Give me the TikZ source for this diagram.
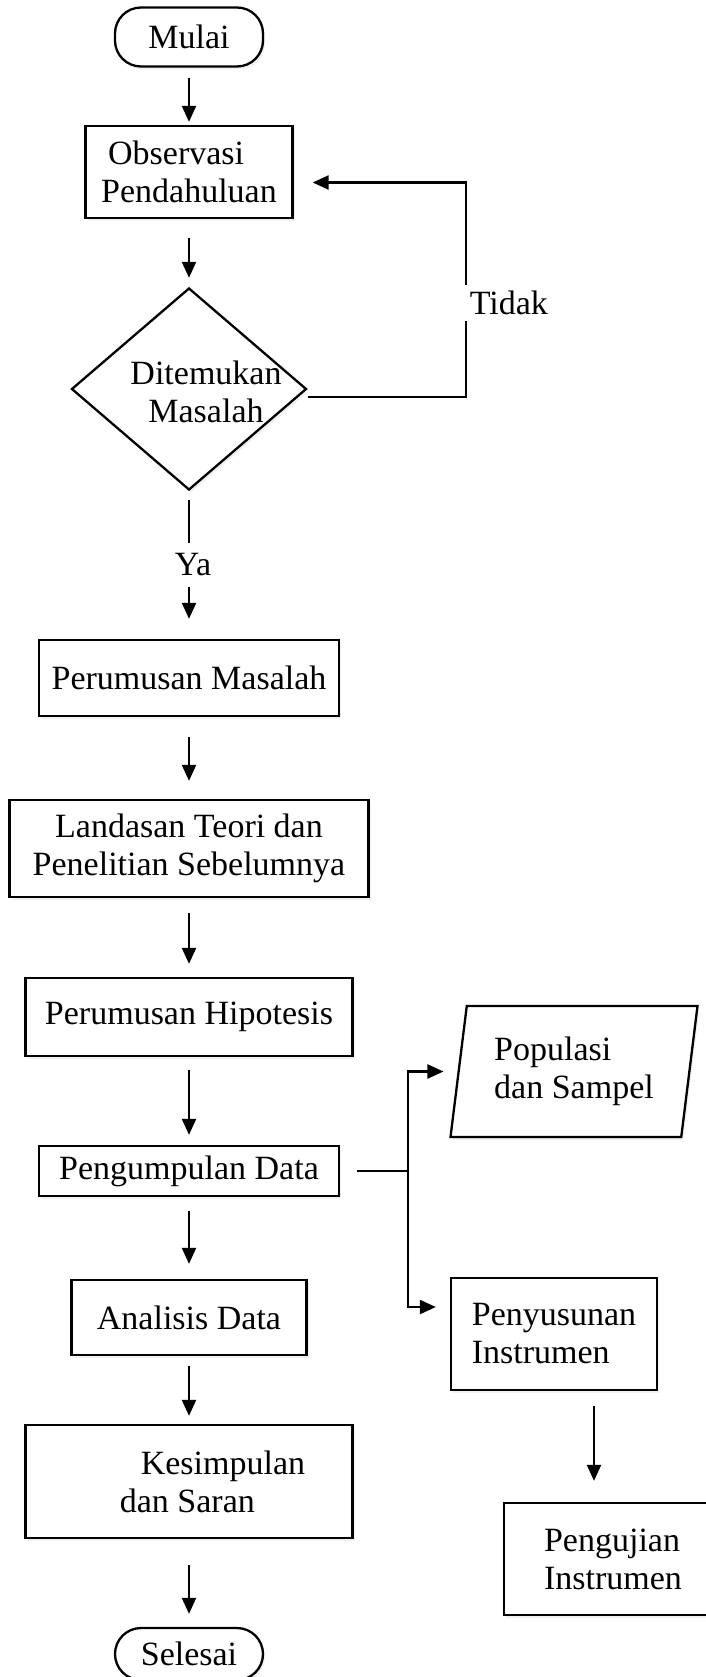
\documentclass[tikz,border=0pt]{standalone}
\usepackage{fontspec}
\setmainfont{Liberation Serif}
\usetikzlibrary{arrows.meta,shapes.geometric,shadows}
\tikzset{
  proc/.style={draw, rectangle, line width=2.3pt, fill=white, inner sep=0pt, align=center,
               drop shadow={shadow xshift=2pt, shadow yshift=-3pt, opacity=0.12}},
  term/.style={proc, rounded corners=26pt, minimum width=148pt},
  dec/.style={proc, diamond, minimum width=235pt, minimum height=202pt},
  io/.style={proc, trapezium, trapezium left angle=76.7, trapezium right angle=103.3,
             trapezium stretches body, align=left},
  flow/.style={-{Triangle[length=16pt,width=14pt]}, line width=2.2pt},
  lbl/.style={fill=white, inner sep=6pt},
  dtext/.style={align=center, xshift=17pt, yshift=-3pt}
}

\begin{document}
\begin{tikzpicture}[x=1pt, y=-1pt, font=\fontsize{34}{38}\selectfont]
\useasboundingbox (0,0) rectangle (705,1677);
% alur utama
\node[term, minimum height=59pt] (mulai) at (189,37) {Mulai};
\node[proc, minimum width=207pt, minimum height=92pt, align=left] (obs) at (189,172) {\hspace*{7pt}Observasi\\Pendahuluan};
\node[dec, label={[dtext]center:{Ditemukan\\Masalah}}] (cek) at (189,389) {};
\node[proc, minimum width=300pt, minimum height=76pt] (rumus) at (189,678) {Perumusan Masalah};
\node[proc, minimum width=359pt, minimum height=97pt] (teori) at (189,848.5) {Landasan Teori dan\\Penelitian Sebelumnya};
\node[proc, minimum width=327pt, minimum height=78pt] (hipo) at (189,1017) {Perumusan Hipotesis};
\node[proc, minimum width=300pt, minimum height=50pt] (kumpul) at (189,1171) {Pengumpulan Data};
\node[proc, minimum width=235pt, minimum height=75pt] (analisis) at (189,1317.5) {Analisis Data};
\node[proc, minimum width=327pt, minimum height=113pt, align=left] (simpul) at (189,1481.5) {\hspace*{68pt}Kesimpulan\\\hspace*{47pt}dan Saran};
\node[term, minimum height=52pt] (selesai) at (189,1654) {Selesai};
% cabang instrumen
\node[io, minimum width=247pt, minimum height=131pt] (sampel) at (574,1071.5) {Populasi\\dan Sampel};
\node[proc, minimum width=206pt, minimum height=112pt, align=left] (susun) at (554,1334) {Penyusunan\\Instrumen};
\node[proc, minimum width=218pt, minimum height=112pt, align=left] (uji) at (613,1559) {Pengujian\\Instrumen};

\draw[flow, shorten <=10pt, shorten >=3pt] (mulai) -- (obs);
\draw[flow, shorten <=19pt, shorten >=9pt] (obs) -- (cek);
\draw[flow, shorten <=9pt, shorten >=20pt] (cek) -- node[lbl, inner ysep=11pt, xshift=4pt] {Ya} (rumus);
\draw[flow, shorten <=20pt, shorten >=18pt] (rumus) -- (teori);
\draw[flow, shorten <=15pt, shorten >=13pt] (teori) -- (hipo);
\draw[flow, shorten <=13pt, shorten >=10pt] (hipo) -- (kumpul);
\draw[flow, shorten <=14pt, shorten >=15pt] (kumpul) -- (analisis);
\draw[flow, shorten <=10pt, shorten >=8pt] (analisis) -- (simpul);
\draw[flow, shorten <=26pt, shorten >=13pt] (simpul) -- (selesai);
% kembali bila tidak
\draw[flow, shorten >=19pt] ([yshift=-8pt]cek.east) -- ++(158,0) |- node[lbl, pos=0.22, anchor=west, xshift=-3pt] {Tidak} ([yshift=-10.5pt]obs.east);
% percabangan pengumpulan data
\coordinate (cabang) at ([xshift=68pt]kumpul.east);
\draw[line width=2.2pt, shorten <=16.5pt] (kumpul.east) -- (cabang);
\draw[flow, shorten >=14pt] (cabang) |- (sampel.west);
\draw[flow, shorten >=14pt] (cabang) |- ([yshift=27pt]susun.west);
\draw[flow, shorten <=15pt, shorten >=21pt] ([xshift=40pt]susun.south) -- ([xshift=40pt]susun.south |- uji.north);
\end{tikzpicture}
\end{document}
